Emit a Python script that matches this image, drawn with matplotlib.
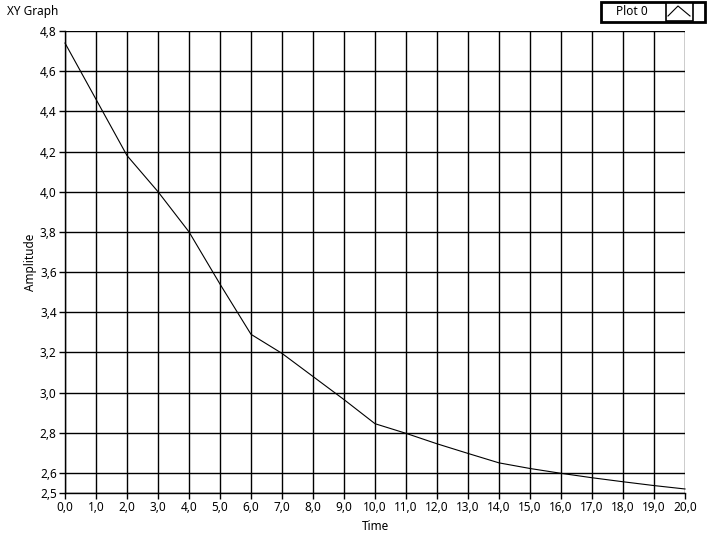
import matplotlib
matplotlib.use("Agg")
import matplotlib.pyplot as plt
from matplotlib.patches import Rectangle
from matplotlib.lines import Line2D

plt.rcParams['font.family'] = ['Noto Sans', 'DejaVu Sans']

time = [0, 1, 2, 3, 4, 5, 6, 7, 8, 9, 10, 11, 12, 13, 14, 15, 16, 17, 18, 19, 20]
amplitude = [4.74, 4.46, 4.18, 4.0, 3.8, 3.54, 3.29, 3.195, 3.08, 2.965, 2.845,
             2.797, 2.745, 2.697, 2.65, 2.622, 2.598, 2.576, 2.556, 2.537, 2.52]
x_ticks = list(range(0, 21))
y_ticks = [2.5, 2.6, 2.8, 3.0, 3.2, 3.4, 3.6, 3.8, 4.0, 4.2, 4.4, 4.6, 4.8]

W, H = 708, 537
fig = plt.figure(figsize=(W / 100, H / 100), dpi=100)
fig.patch.set_facecolor('white')

left, right, top, bottom = 65, 685, 31, 493
ax = fig.add_axes([left / W, 1 - bottom / H, (right - left) / W, (bottom - top) / H])
ax.set_xlim(0, 20)
ax.set_ylim(2.5, 4.8)
ax.set_xticks(x_ticks)
ax.set_xticklabels([f"{v:.1f}".replace('.', ',') for v in x_ticks])
ax.set_yticks(y_ticks)
ax.set_yticklabels([f"{v:.1f}".replace('.', ',') for v in y_ticks])
ax.grid(True, color='black', linewidth=1.0)
ax.set_axisbelow(True)
for s in ['top', 'right']:
    ax.spines[s].set_visible(False)
for s in ['left', 'bottom']:
    ax.spines[s].set_linewidth(1.0)
    ax.spines[s].set_color('black')
ax.tick_params(axis='both', direction='out', length=4, width=1, colors='black',
               labelsize=8.5, pad=2)
ax.plot(time, amplitude, color='black', linewidth=0.8, clip_on=False)
ax.set_xlabel('Time', fontsize=8.5, labelpad=4)
ax.set_ylabel('Amplitude', fontsize=8.5, labelpad=2)

# overlay for title and legend in pixel coordinates
ov = fig.add_axes([0, 0, 1, 1], zorder=-1)
ov.set_xlim(0, W)
ov.set_ylim(H, 0)
ov.axis('off')
ov.text(7, 11, 'XY Graph', fontsize=8.5, ha='left', va='center')

ov2 = fig.add_axes([0, 0, 1, 1], zorder=5)
ov2.set_xlim(0, W)
ov2.set_ylim(H, 0)
ov2.axis('off')
ov2.patch.set_alpha(0)
ov2.add_patch(Rectangle((601, 1.5), 103.5, 20.5, facecolor='white', edgecolor='black', linewidth=2.0))
ov2.text(632, 11.5, 'Plot 0', fontsize=8.5, ha='center', va='center')
ov2.add_patch(Rectangle((665.5, 2.5), 27.5, 18.5, facecolor='white', edgecolor='black', linewidth=1.2))
ov2.add_line(Line2D([668, 678, 690], [16, 6, 16], color='black', linewidth=0.8))

fig.savefig('out.png', dpi=100, facecolor='white')
